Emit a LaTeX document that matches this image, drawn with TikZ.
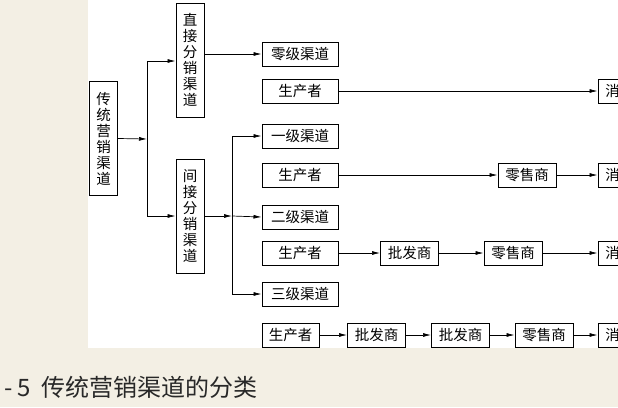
\documentclass[tikz,border=0pt]{standalone}
\usepackage{fontspec}
\newfontfamily\cjk{Noto Sans CJK SC}
\usetikzlibrary{arrows.meta}
\begin{document}
\begin{tikzpicture}[x=1pt,y=-1pt,
  bx/.style={draw,line width=1pt,minimum height=24pt,inner sep=0pt,font=\cjk\fontsize{14.5}{14.5}\selectfont},
  vbx/.style={draw,line width=1pt,minimum width=28pt,minimum height=114pt,inner sep=0pt,align=center,font=\cjk\fontsize{14.5}{16}\selectfont},
  ar/.style={line width=0.7pt,-{Latex[length=8pt,width=4pt]}},
  ln/.style={line width=0.7pt}]
\clip (0,0) rectangle (618,407);
\fill[fill={rgb,255:red,243;green,239;blue,228}] (0,0) rectangle (618,407);
\fill[white] (88,0) rectangle (618,348);
\node[vbx] (ct) at (103.5,138.5) {传\\统\\营\\销\\渠\\道};
\node[vbx] (zj) at (190,60) {直\\接\\分\\销\\渠\\道};
\node[vbx] (jj) at (190,216) {间\\接\\分\\销\\渠\\道};
\node[bx,minimum width=76pt] (l0) at (300,54) {零级渠道};
\node[bx,minimum width=76pt] (p1) at (300,91) {生产者};
\node[bx,minimum width=76pt] (l1) at (300,136) {一级渠道};
\node[bx,minimum width=76pt] (p2) at (300,175) {生产者};
\node[bx,minimum width=76pt] (l2) at (300,217) {二级渠道};
\node[bx,minimum width=76pt] (p3) at (300,253) {生产者};
\node[bx,minimum width=76pt] (l3) at (300,294) {三级渠道};
\node[bx,minimum width=57pt] (p4) at (290.5,335) {生产者};
\node[bx,minimum width=58pt] (c1) at (627,91) {消费者};
\node[bx,minimum width=58pt] (r2) at (527,175) {零售商};
\node[bx,minimum width=58pt] (c2) at (627,175) {消费者};
\node[bx,minimum width=58pt] (w3) at (409.5,253) {批发商};
\node[bx,minimum width=58pt] (r3) at (513,253) {零售商};
\node[bx,minimum width=58pt] (c3) at (627,253) {消费者};
\node[bx,minimum width=58pt] (w4a) at (376.5,335) {批发商};
\node[bx,minimum width=58pt] (w4b) at (460.5,335) {批发商};
\node[bx,minimum width=58pt] (r4) at (544,335) {零售商};
\node[bx,minimum width=58pt] (c4) at (627,335) {消费者};
\coordinate (j1) at (147,139);
\coordinate (j2) at (232,216);
\draw[ar] (ct.east) -- (j1);
\draw[ln] (147,61) -- (147,216);
\draw[ar] (147,61) -- (zj.west|-147,61);
\draw[ar] (147,216) -- (jj.west);
\draw[ar] (zj.east|-l0) -- (l0.west);
\draw[ar] (jj.east) -- (j2);
\draw[ln] (232,136) -- (232,294);
\draw[ar] (232,136) -- (l1.west);
\draw[ar] (j2) -- (l2.west);
\draw[ar] (232,294) -- (l3.west);
\draw[ar] (p1) -- (c1);
\draw[ar] (p2) -- (r2);
\draw[ar] (r2) -- (c2);
\draw[ar] (p3) -- (w3);
\draw[ar] (w3) -- (r3);
\draw[ar] (r3) -- (c3);
\draw[ar] (p4) -- (w4a);
\draw[ar] (w4a) -- (w4b);
\draw[ar] (w4b) -- (r4);
\draw[ar] (r4) -- (c4);
\node[anchor=west,inner sep=0pt,font=\cjk\fontsize{24}{24}\selectfont,text={rgb,255:red,40;green,40;blue,40}] (cap) at (4,387) {-\ 5\ \ 传统营销渠道的分类};
\end{tikzpicture}
\end{document}
